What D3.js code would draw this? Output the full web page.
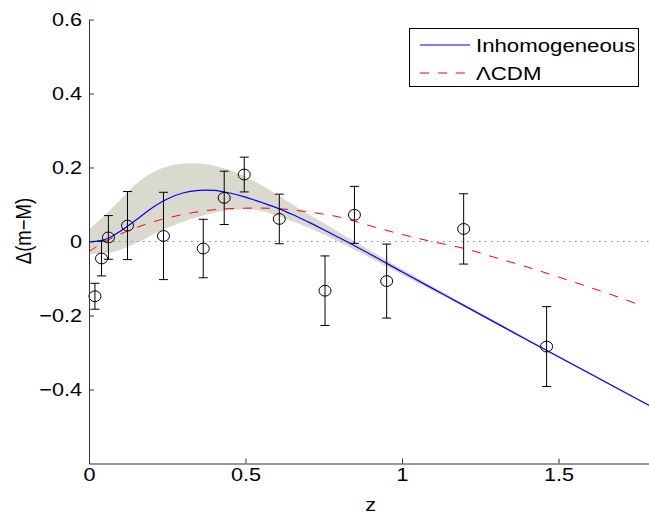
<!DOCTYPE html>
<html>
<head>
<meta charset="utf-8">
<script src="https://cdn.jsdelivr.net/npm/d3@7"></script>
<style>
  body { margin: 0; background: #fff; }
  text { font-family: "Liberation Sans", Arial, Helvetica, sans-serif; }
</style>
</head>
<body>
<svg width="649" height="517"></svg>
<script>
// observed supernova points (z, residual, error)
const obsZ   = [0.019, 0.040, 0.062, 0.123, 0.238, 0.365, 0.432, 0.496, 0.608, 0.754, 0.848, 0.951, 1.197, 1.462];
const obsDm  = [-0.148, -0.046, 0.011, 0.043, 0.015, -0.019, 0.118, 0.181, 0.061, -0.133, 0.072, -0.107, 0.034, -0.284];
const obsErr = [0.035, 0.047, 0.059, 0.092, 0.118, 0.079, 0.072, 0.047, 0.067, 0.094, 0.077, 0.100, 0.095, 0.108];

// inhomogeneous model curve
const inhomZ = [0, 0.03, 0.06, 0.1, 0.15, 0.2, 0.25, 0.3, 0.35, 0.4, 0.45, 0.5, 0.55, 0.6, 0.65, 0.7, 0.75, 0.8, 0.9, 1.0, 1.1, 1.2, 1.4, 1.6, 1.8];
const inhomDm = [0, 0.001, 0.008, 0.028, 0.058, 0.09, 0.115, 0.131, 0.138, 0.138, 0.131, 0.12, 0.106, 0.091, 0.073, 0.053, 0.032, 0.010, -0.035, -0.082, -0.128, -0.174, -0.266, -0.357, -0.448];

// confidence band around the inhomogeneous model
const bandZ     = [0, 0.05, 0.1, 0.15, 0.2, 0.25, 0.3, 0.35, 0.4, 0.45, 0.5, 0.55, 0.6, 0.65, 0.7, 0.75, 0.8, 0.9, 1.0, 1.1, 1.2, 1.4, 1.6, 1.8];
const bandUpper = [0.033, 0.07, 0.113, 0.155, 0.185, 0.203, 0.21, 0.211, 0.205, 0.193, 0.175, 0.153, 0.128, 0.1, 0.074, 0.05, 0.024, -0.025, -0.074, -0.122, -0.169, -0.262, -0.355, -0.446];
const bandLower = [-0.033, -0.032, -0.022, -0.005, 0.017, 0.037, 0.053, 0.067, 0.078, 0.085, 0.087, 0.083, 0.07, 0.055, 0.038, 0.019, -0.002, -0.045, -0.09, -0.134, -0.178, -0.269, -0.36, -0.45];

// LCDM curve
const lcdmZ  = [0, 0.05, 0.1, 0.15, 0.2, 0.3, 0.4, 0.5, 0.6, 0.7, 0.8, 0.9, 1.0, 1.1, 1.2, 1.3, 1.4, 1.5, 1.6, 1.7, 1.76];
const lcdmDm = [-0.027, -0.001, 0.02, 0.037, 0.052, 0.073, 0.086, 0.09, 0.089, 0.08, 0.066, 0.042, 0.019, -0.001, -0.019, -0.044, -0.069, -0.096, -0.124, -0.153, -0.172];

const xTicks = [0, 0.5, 1, 1.5];
const xTickLabels = ["0", "0.5", "1", "1.5"];
const yTicks = [-0.4, -0.2, 0, 0.2, 0.4, 0.6];
const yTickLabels = ["\u22120.4", "\u22120.2", "0", "0.2", "0.4", "0.6"];

const seriesNames = ["Inhomogeneous", "\u039BCDM"];

const svg = d3.select("svg");
const stretch = "scale(1.17,1)"; // source figure is a bit wider than tall

const x = d3.scaleLinear().domain([0, 1.8]).range([89, 652.4]);
const y = d3.scaleLinear().domain([-0.6, 0.6]).range([463.5, 19.5]);

// band
const band = d3.area()
  .x((d, i) => x(bandZ[i]))
  .y0((d, i) => y(bandLower[i]))
  .y1((d, i) => y(bandUpper[i]))
  .curve(d3.curveCatmullRom);
svg.append("path")
  .attr("d", band(bandZ))
  .attr("fill", "#d9d9ce");

// zero reference line
svg.append("line")
  .attr("x1", x(0)).attr("x2", 649)
  .attr("y1", y(0)).attr("y2", y(0))
  .attr("stroke", "#8a8a8a")
  .attr("stroke-width", 1)
  .attr("stroke-dasharray", "1.5,4.5");

const line = d3.line().curve(d3.curveCatmullRom);

svg.append("path")
  .attr("d", line(lcdmZ.map((z, i) => [x(z), y(lcdmDm[i])])))
  .attr("fill", "none")
  .attr("stroke", "#ff0000")
  .attr("stroke-width", 1)
  .attr("stroke-dasharray", "9,9");

svg.append("path")
  .attr("d", line(inhomZ.map((z, i) => [x(z), y(inhomDm[i])])))
  .attr("fill", "none")
  .attr("stroke", "#0000ff")
  .attr("stroke-width", 1.2);

// error bars + circles
const pts = svg.append("g").attr("stroke", "#000").attr("fill", "none").attr("stroke-width", 1);
obsZ.forEach((z, i) => {
  const cx = x(z);
  const top = y(obsDm[i] + obsErr[i]);
  const bot = y(obsDm[i] - obsErr[i]);
  pts.append("line").attr("x1", cx).attr("x2", cx).attr("y1", top).attr("y2", bot);
  pts.append("line").attr("x1", cx - 4.5).attr("x2", cx + 4.5).attr("y1", top).attr("y2", top);
  pts.append("line").attr("x1", cx - 4.5).attr("x2", cx + 4.5).attr("y1", bot).attr("y2", bot);
  pts.append("ellipse").attr("cx", cx).attr("cy", y(obsDm[i])).attr("rx", 6).attr("ry", 5.4);
});

// axes
const xAxis = d3.axisBottom(x)
  .tickValues(xTicks)
  .tickFormat((d, i) => xTickLabels[i])
  .tickSizeInner(-5)
  .tickSizeOuter(0)
  .tickPadding(4);
const gx = svg.append("g").attr("transform", `translate(0, ${y(-0.6)})`).call(xAxis);

const yAxis = d3.axisLeft(y)
  .tickValues(yTicks)
  .tickFormat((d, i) => yTickLabels[i])
  .tickSizeInner(-5)
  .tickSizeOuter(0)
  .tickPadding(6);
const gy = svg.append("g").attr("transform", `translate(${x(0)}, 0)`).call(yAxis);

[gx, gy].forEach(g => {
  g.select(".domain").attr("stroke", "#333");
  g.selectAll(".tick line").attr("stroke", "#333");
  g.selectAll(".tick text")
    .attr("fill", "#000")
    .attr("transform", stretch)
    .style("font-size", "18.5px")
    .style("font-family", '"Liberation Sans", Arial, sans-serif');
});

// axis labels
svg.append("text")
  .attr("transform", `translate(${x(0.9)}, 511) ${stretch}`)
  .attr("text-anchor", "middle")
  .style("font-size", "18.5px")
  .text("z");

svg.append("text")
  .attr("transform", "translate(31, 231) rotate(-90) scale(1,1.17)")
  .attr("text-anchor", "middle")
  .style("font-size", "18.5px")
  .text("\u0394(m\u2212M)");

// legend
const leg = svg.append("g");
leg.append("rect")
  .attr("x", 409.5).attr("y", 28.5)
  .attr("width", 229).attr("height", 58)
  .attr("fill", "#fff")
  .attr("stroke", "#000");
const legColors = ["#0000ff", "#ff0000"];
const legDash = [null, "9,9"];
seriesNames.forEach((name, i) => {
  const ly = 45 + i * 28;
  leg.append("line")
    .attr("x1", 420).attr("x2", 470)
    .attr("y1", ly).attr("y2", ly)
    .attr("stroke", legColors[i])
    .attr("stroke-width", i === 0 ? 1.2 : 1)
    .attr("stroke-dasharray", legDash[i]);
  leg.append("text")
    .attr("transform", `translate(476, ${ly + 7}) ${stretch}`)
    .style("font-size", "19px")
    .text(name);
});
</script>
</body>
</html>
